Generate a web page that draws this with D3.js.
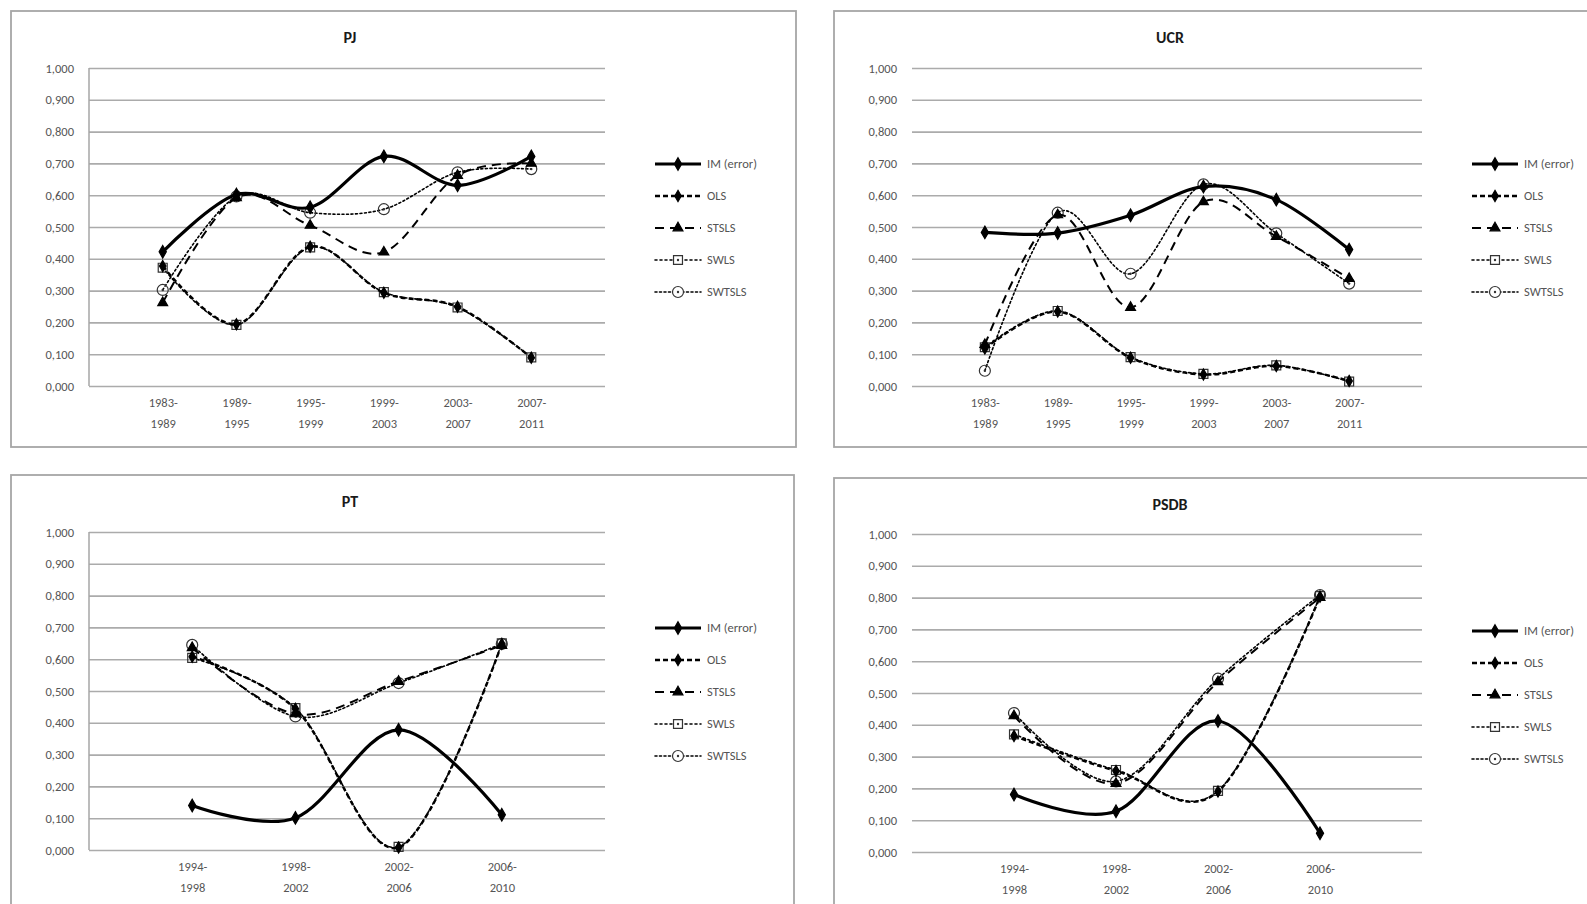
<!DOCTYPE html>
<html>
<head>
<meta charset="utf-8">
<script src="https://cdn.jsdelivr.net/npm/d3@7"></script>
<style>
  html, body { margin: 0; padding: 0; background: #fff; overflow: hidden; }
  svg { display: block; }
  text { font-family: Carlito, Calibri, Lato, "Open Sans", sans-serif; }
</style>
</head>
<body>
<svg id="chart" width="1587" height="904"></svg>
<script>
// ---------------- DATA ----------------
const seriesNames = ["IM (error)", "OLS", "STSLS", "SWLS", "SWTSLS"];
const yTickValues = [0, 0.1, 0.2, 0.3, 0.4, 0.5, 0.6, 0.7, 0.8, 0.9, 1.0];

// PJ
const pjCategories = ["1983-1989", "1989-1995", "1995-1999", "1999-2003", "2003-2007", "2007-2011"];
const pjIM     = [0.422, 0.602, 0.562, 0.722, 0.631, 0.722];
const pjOLS    = [0.377, 0.194, 0.438, 0.293, 0.249, 0.089];
const pjSTSLS  = [0.262, 0.592, 0.505, 0.421, 0.662, 0.700];
const pjSWLS   = [0.372, 0.192, 0.436, 0.295, 0.247, 0.090];
const pjSWTSLS = [0.302, 0.596, 0.545, 0.556, 0.672, 0.682];

// UCR
const ucrCategories = ["1983-1989", "1989-1995", "1995-1999", "1999-2003", "2003-2007", "2007-2011"];
const ucrIM     = [0.483, 0.481, 0.537, 0.627, 0.586, 0.429];
const ucrOLS    = [0.118, 0.234, 0.089, 0.036, 0.063, 0.016];
const ucrSTSLS  = [0.130, 0.538, 0.247, 0.579, 0.470, 0.338];
const ucrSWLS   = [0.122, 0.236, 0.091, 0.038, 0.065, 0.014];
const ucrSWTSLS = [0.048, 0.545, 0.353, 0.634, 0.480, 0.322];

// PT
const ptCategories = ["1994-1998", "1998-2002", "2002-2006", "2006-2010"];
const ptIM     = [0.140, 0.101, 0.378, 0.111];
const ptOLS    = [0.608, 0.444, 0.008, 0.648];
const ptSTSLS  = [0.636, 0.428, 0.530, 0.643];
const ptSWLS   = [0.604, 0.446, 0.010, 0.650];
const ptSWTSLS = [0.645, 0.420, 0.525, 0.648];

// PSDB
const psdbCategories = ["1994-1998", "1998-2002", "2002-2006", "2006-2010"];
const psdbIM     = [0.181, 0.128, 0.412, 0.059];
const psdbOLS    = [0.365, 0.255, 0.190, 0.803];
const psdbSTSLS  = [0.428, 0.215, 0.535, 0.800];
const psdbSWLS   = [0.370, 0.258, 0.192, 0.805];
const psdbSWTSLS = [0.437, 0.222, 0.545, 0.808];

// ---------------- LAYOUT / STYLE ----------------
const panels = [
  { title: "PJ",   cats: pjCategories,   values: [pjIM, pjOLS, pjSTSLS, pjSWLS, pjSWTSLS],
    box: {x: 11, y: 11, w: 785, h: 436}, plot: {l: 89, r: 605, t: 68, b: 386}, yAxisLine: true },
  { title: "UCR",  cats: ucrCategories,  values: [ucrIM, ucrOLS, ucrSTSLS, ucrSWLS, ucrSWTSLS],
    box: {x: 834, y: 11, w: 800, h: 436}, plot: {l: 912, r: 1422, t: 68, b: 386}, yAxisLine: false },
  { title: "PT",   cats: ptCategories,   values: [ptIM, ptOLS, ptSTSLS, ptSWLS, ptSWTSLS],
    box: {x: 11, y: 475, w: 783, h: 520}, plot: {l: 89, r: 605, t: 532, b: 850}, yAxisLine: true },
  { title: "PSDB", cats: psdbCategories, values: [psdbIM, psdbOLS, psdbSTSLS, psdbSWLS, psdbSWTSLS],
    box: {x: 834, y: 478, w: 800, h: 520}, plot: {l: 912, r: 1422, t: 534, b: 852}, yAxisLine: false }
];

const styles = [
  { width: 3.2, dash: null,   symbol: d3.symbolDiamond,  size: 45, fill: "#000", stroke: "#000", dot: false },
  { width: 2.4, dash: "5,3",  symbol: d3.symbolDiamond,  size: 36, fill: "#000", stroke: "#000", dot: false },
  { width: 2.0, dash: "9,6",  symbol: d3.symbolTriangle, size: 42, fill: "#000", stroke: "#000", dot: false },
  { width: 1.6, dash: "2,3",  symbol: d3.symbolSquare,   size: 80, fill: "none", stroke: "#333", dot: true },
  { width: 1.6, dash: "2,2.5",symbol: d3.symbolCircle,   size: 95, fill: "none", stroke: "#333", dot: true }
];
const drawOrder = [3, 4, 2, 1, 0];

const svg = d3.select("#chart");
const fmt = v => d3.format(".3f")(v).replace(".", ",");

panels.forEach(p => {
  const g = svg.append("g");

  // panel border
  g.append("rect")
    .attr("x", p.box.x).attr("y", p.box.y)
    .attr("width", p.box.w).attr("height", p.box.h)
    .attr("fill", "#fff").attr("stroke", "#a6a6a6").attr("stroke-width", 1.8);

  const x = d3.scalePoint().domain(p.cats).range([p.plot.l, p.plot.r]).padding(1);
  const y = d3.scaleLinear().domain([0, 1]).range([p.plot.b, p.plot.t]);

  // gridlines via axis
  const yGrid = d3.axisLeft(y).tickValues(yTickValues)
    .tickSize(-(p.plot.r - p.plot.l)).tickFormat("");
  const gg = g.append("g").attr("transform", `translate(${p.plot.l},0)`).call(yGrid);
  gg.select(".domain").remove();
  gg.selectAll(".tick line").attr("stroke", "#ababab").attr("stroke-width", 1.6);

  // y tick labels via axis
  const yLab = d3.axisLeft(y).tickValues(yTickValues).tickSize(0).tickPadding(15).tickFormat(fmt);
  const gl = g.append("g").attr("transform", `translate(${p.plot.l},0)`).call(yLab);
  gl.select(".domain").remove();
  gl.selectAll(".tick text")
    .attr("fill", "#555").attr("font-size", 12.5)
    .style("font-family", "Carlito, Calibri, Lato, sans-serif");

  if (p.yAxisLine) {
    g.append("line")
      .attr("x1", p.plot.l).attr("x2", p.plot.l)
      .attr("y1", y(1)).attr("y2", y(0))
      .attr("stroke", "#a6a6a6").attr("stroke-width", 1.5);
  }

  // x axis labels via axis
  const xAx = d3.axisBottom(x).tickSize(0).tickFormat("");
  const gx = g.append("g").attr("transform", `translate(0,${p.plot.b})`).call(xAx);
  gx.select(".domain").remove();
  gx.selectAll(".tick").each(function(d) {
    const parts = d.split("-");
    const t = d3.select(this).append("text")
      .attr("fill", "#555").attr("font-size", 12.5).attr("text-anchor", "middle");
    t.append("tspan").attr("x", 0).attr("y", 21).text(parts[0] + "-");
    t.append("tspan").attr("x", 0).attr("y", 42).text(parts[1]);
  });

  // title
  g.append("text")
    .attr("x", (p.plot.l + p.plot.r) / 2 + 3).attr("y", p.box.y + 32)
    .attr("text-anchor", "middle").attr("font-size", 16).attr("font-weight", "bold")
    .attr("fill", "#1a1a1a").text(p.title);

  // series
  const line = d3.line()
    .x((d, i) => x(p.cats[i]))
    .y(d => y(d))
    .curve(d3.curveCardinal.tension(0));

  drawOrder.forEach(si => {
    const st = styles[si];
    const vals = p.values[si];
    g.append("path")
      .attr("d", line(vals))
      .attr("fill", "none")
      .attr("stroke", "#000")
      .attr("stroke-width", st.width)
      .attr("stroke-dasharray", st.dash)
      .attr("stroke-linecap", si >= 3 ? "round" : "butt")
      .attr("stroke-linejoin", "round");
    vals.forEach((v, i) => {
      g.append("path")
        .attr("d", d3.symbol().type(st.symbol).size(st.size)())
        .attr("transform", `translate(${x(p.cats[i])},${y(v)})`)
        .attr("fill", st.fill).attr("stroke", st.stroke).attr("stroke-width", 1.2);
      if (st.dot) {
        g.append("circle").attr("cx", x(p.cats[i])).attr("cy", y(v)).attr("r", 1.2).attr("fill", "#333");
      }
    });
  });

  // legend
  const lx = p.plot.r + 50;
  seriesNames.forEach((name, i) => {
    const st = styles[i];
    const ly = p.box.y + 153 + i * 32;
    g.append("line")
      .attr("x1", lx).attr("x2", lx + 46).attr("y1", ly).attr("y2", ly)
      .attr("stroke", "#000").attr("stroke-width", st.width)
      .attr("stroke-dasharray", st.dash)
      .attr("stroke-linecap", i >= 3 ? "round" : "butt");
    g.append("path")
      .attr("d", d3.symbol().type(st.symbol).size(st.size)())
      .attr("transform", `translate(${lx + 23},${ly})`)
      .attr("fill", st.fill === "none" ? "#fff" : st.fill)
      .attr("stroke", st.stroke).attr("stroke-width", 1.2);
    if (st.dot) {
      g.append("circle").attr("cx", lx + 23).attr("cy", ly).attr("r", 1.2).attr("fill", "#333");
    }
    g.append("text")
      .attr("x", lx + 52).attr("y", ly).attr("dy", "0.35em")
      .attr("font-size", 12.5).attr("fill", "#555").text(name);
  });
});
</script>
</body>
</html>
